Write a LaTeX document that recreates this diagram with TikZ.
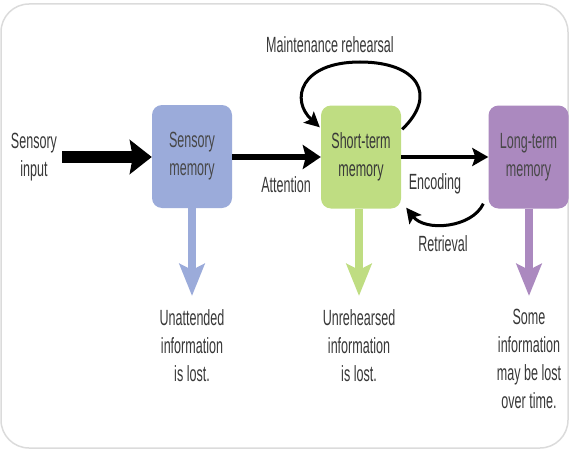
\documentclass[tikz,border=0pt]{standalone}
\usepackage{fontspec}
\setmainfont{Liberation Sans}[FakeStretch=0.57]
\usetikzlibrary{arrows.meta}
\definecolor{sblue}{RGB}{155,171,218}
\definecolor{sgreen}{RGB}{191,221,130}
\definecolor{spurple}{RGB}{171,137,191}
\definecolor{txt}{RGB}{55,55,55}
\tikzset{
  membox/.style={rectangle, rounded corners=10pt, minimum width=80pt, minimum height=103pt, inner sep=0pt, align=center, text=black!72, font=\fontsize{22}{28}\selectfont},
  lbl/.style={align=center, text=txt, font=\fontsize{22}{28}\selectfont, inner sep=0pt},
  stem/.style={line width=8pt, -{Stealth[length=32pt,width=25pt,inset=6pt]}},
  thin/.style={line width=3pt, -{Stealth[length=15pt,width=15pt,inset=3pt]}},
}
\begin{document}
\begin{tikzpicture}[x=1pt,y=-1pt]
\useasboundingbox (0,0) rectangle (572,452);
\draw[black!14, line width=1.5pt, rounded corners=28pt] (1,4) rectangle (568,448);
% boxes
\node[membox, fill=sblue] (sm) at (192,156.5) {Sensory\\memory};
\node[membox, fill=sgreen, text=black!78] (stm) at (361,157) {Short-term\\memory};
\node[membox, fill=spurple] (ltm) at (528.5,157) {Long-term\\memory};
% texts
\node[lbl] (in) at (34,157) {Sensory\\input};
\node[lbl] (mr) at (330,45) {Maintenance rehearsal};
\node[lbl] (att) at (286,185) {Attention};
\node[lbl] (enc) at (435,184) {Encoding};
\node[lbl] (ret) at (443,244) {Retrieval};
\node[lbl] (l1) at (192,346) {Unattended\\information\\is lost.};
\node[lbl] (l2) at (359,346) {Unrehearsed\\information\\is lost.};
\node[lbl] (l3) at (529,359) {Some\\information\\may be lost\\over time.};
% coordinates
\coordinate (inS) at (62,157);
\coordinate (e1) at (192,296);
\coordinate (e2) at (359,296);
\coordinate (e3) at (529,296);
% arrows
\draw[line width=12pt, -{Stealth[length=22pt,width=34pt,inset=3pt]}] (inS) -- (sm.west|-inS);
\draw[line width=6pt, -{Stealth[length=18pt,width=24pt,inset=3pt]}] (sm.east|-inS) -- (stm.west|-inS);
\draw[line width=4pt, -{Stealth[length=16pt,width=18pt,inset=3pt]}] (stm.east|-inS) -- (ltm.west|-inS);
\draw[thin] ([xshift=-5pt,yshift=5pt]ltm.south west) .. controls (472,228) and (425,232) .. ([xshift=5pt,yshift=1pt]stm.south east);
\draw[thin] ([xshift=1pt,yshift=-24pt]stm.north east) .. controls (438,95) and (418,62) .. (360,62) .. controls (300,62) and (290,100) .. ([yshift=-22pt,xshift=-1pt]stm.north west);
% stems
\draw[stem, sblue] (sm.south) -- (e1);
\draw[stem, sgreen] (stm.south-|e2) -- (e2);
\draw[stem, spurple] (ltm.south-|e3) -- (e3);
\end{tikzpicture}
\end{document}
